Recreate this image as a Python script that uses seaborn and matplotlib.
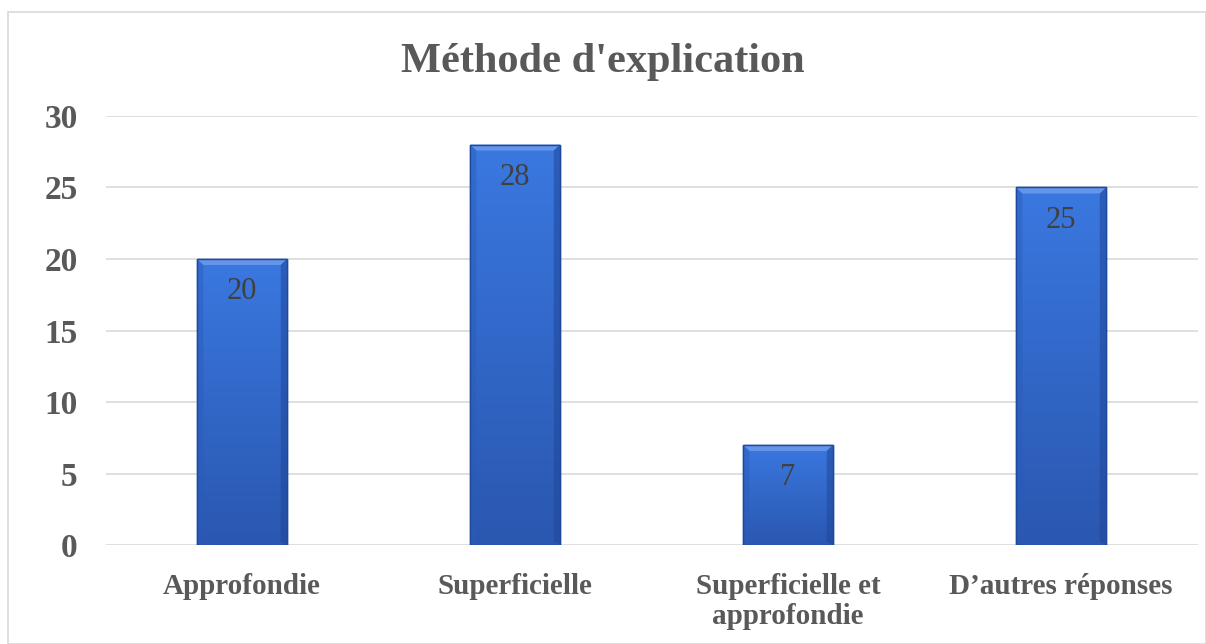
import matplotlib
matplotlib.use("Agg")
import matplotlib.pyplot as plt
from matplotlib.patches import Rectangle, Polygon
from matplotlib.colors import LinearSegmentedColormap
import numpy as np
import seaborn as sns
import pandas as pd

categories = ["Approfondie", "Superficielle", "Superficielle et\napprofondie", "D\u2019autres réponses"]
values = [20, 28, 7, 25]
y_ticks = [0, 5, 10, 15, 20, 25, 30]
title = "Méthode d'explication"

TEXT_GRAY = "#595959"
BAR_BLUE = "#3068CF"

sns.set_theme(style="white")
plt.rcParams["font.family"] = ["Liberation Serif", "DejaVu Serif"]

df = pd.DataFrame({"cat": categories, "val": values})

fig = plt.figure(figsize=(12.06, 6.44), dpi=100)
ax = fig.add_axes([0.0875, 0.1537, 0.9055, 0.6662])

sns.barplot(data=df, x="cat", y="val", color=BAR_BLUE, width=0.33,
            saturation=1, edgecolor="#1E4A9C", linewidth=1.0, ax=ax, zorder=3)

# vertical gradient fill + bevel edges on each bar
grad_cmap = LinearSegmentedColormap.from_list("bar", ["#2A57B0", "#3A78E0"])
grad = np.linspace(0, 1, 256).reshape(-1, 1)
bev_y = 0.42
for p in list(ax.patches):
    x0, w, h = p.get_x(), p.get_width(), p.get_height()
    im = ax.imshow(grad, cmap=grad_cmap, aspect="auto", origin="lower",
                   extent=[x0, x0 + w, 0, h], zorder=3.5)
    im.set_clip_path(p)
    bx = w * 0.07
    ax.add_patch(Polygon([(x0, h), (x0 + w, h), (x0 + w - bx, h - bev_y),
                          (x0 + bx, h - bev_y)], closed=True,
                         color="#6C9BEE", lw=0, alpha=0.85, zorder=4))
    ax.add_patch(Polygon([(x0 + w, h), (x0 + w, 0), (x0 + w - bx, bev_y * 0.6),
                          (x0 + w - bx, h - bev_y)], closed=True,
                         color="#1F479A", lw=0, alpha=0.55, zorder=4))
    ax.add_patch(Polygon([(x0, h), (x0, 0), (x0 + bx, bev_y * 0.6),
                          (x0 + bx, h - bev_y)], closed=True,
                         color="#2A5BBA", lw=0, alpha=0.45, zorder=4))
    ax.add_patch(Rectangle((x0, 0), w, h, fill=False, edgecolor="#1E4A9C",
                           lw=1.0, zorder=4.5))

ax.set_xlim(-0.5, len(categories) - 0.5)
ax.set_ylim(0, 30)
ax.set_yticks(y_ticks)

for i, v in enumerate(values):
    ax.text(i, v - 2.3, str(v), ha="center", va="center", fontsize=22,
            color="#404040", zorder=5)

ax.yaxis.grid(True, color="#D9D9D9", lw=1.2, zorder=0)
ax.set_axisbelow(True)
for s in ax.spines.values():
    s.set_visible(False)

ax.set_xlabel("")
ax.set_ylabel("")
ax.tick_params(axis="both", length=0)
ax.tick_params(axis="y", pad=20)
ax.tick_params(axis="x", pad=20)
for lab in ax.get_yticklabels():
    lab.set_fontsize(24)
    lab.set_fontweight("bold")
    lab.set_color(TEXT_GRAY)
for lab in ax.get_xticklabels():
    lab.set_fontsize(21)
    lab.set_fontweight("bold")
    lab.set_color(TEXT_GRAY)
    lab.set_va("top")
    lab.set_linespacing(1.15)

fig.text(0.5, 0.903, title, ha="center", va="center", fontsize=30.5,
         fontweight="bold", color=TEXT_GRAY)

# outer chart border
fig.add_artist(Rectangle((8 / 1206, 0), 1 - 8 / 1206, 1 - 12 / 644,
                         transform=fig.transFigure, fill=False,
                         edgecolor="#D9D9D9", lw=1.2))

fig.savefig("out.png", dpi=100)
